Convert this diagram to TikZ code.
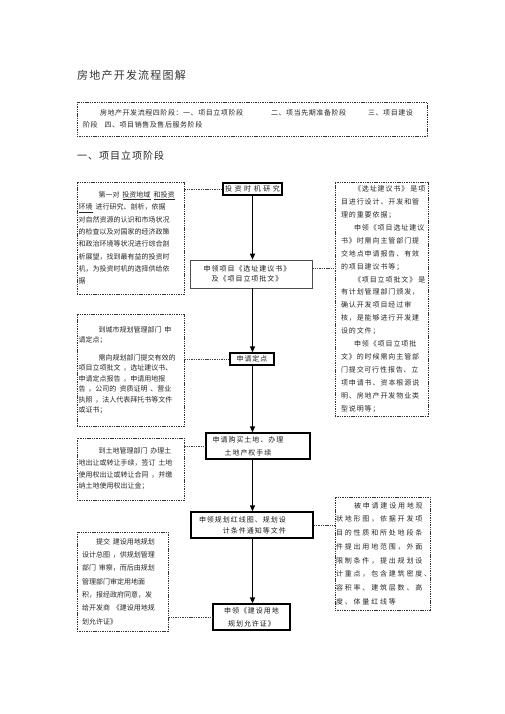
\documentclass[tikz,border=0pt]{standalone}
\usepackage{fontspec}
\setmainfont{Noto Sans CJK SC}
\newfontfamily\fL{Noto Sans CJK SC}
\newfontfamily\fTop[LetterSpace=8]{Noto Sans CJK SC}
\newfontfamily\fRa[LetterSpace=13]{Noto Sans CJK SC}
\newfontfamily\fRb[LetterSpace=26]{Noto Sans CJK SC}
\newfontfamily\fC[LetterSpace=14]{Noto Sans CJK SC}
\newfontfamily\fCa[LetterSpace=36]{Noto Sans CJK SC}
\newfontfamily\fTitle[LetterSpace=11]{Noto Sans CJK SC}
\newfontfamily\fHead[LetterSpace=10]{Noto Sans CJK SC}
\newcommand\myind[1]{\leavevmode\kern#1\relax}
\usetikzlibrary{arrows.meta}
\tikzset{
  dbox/.style={draw=black!80, line width=0.8pt, dash pattern=on 1.4pt off 0.9pt,
    align=left, inner ysep=0pt, text=black!85},
  cbox/.style={draw=black, line width=1.2pt, inner sep=0pt, align=center,
    font=\fC\fontsize{7}{10}\selectfont, text=black!90},
  ctext/.style={inner sep=0pt, align=center, text=black!90},
  conn/.style={draw=black!75, line width=0.8pt, dash pattern=on 1.4pt off 0.9pt},
  flow/.style={draw=black, line width=1.3pt, -{Triangle[length=6pt,width=5pt]}},
  plain/.style={anchor=west, inner sep=0pt, text=black!80}
}
\begin{document}
\begin{tikzpicture}[x=1pt, y=-1pt]
\useasboundingbox (0,0) rectangle (505,714);

\node[plain, font=\fTitle\fontsize{11}{13}\selectfont] (title) at (77,75) {房地产开发流程图解};

\node[dbox, minimum width=350pt, minimum height=34pt, inner xsep=6pt, text width=338pt,
  font=\fTop\fontsize{7}{12}\selectfont] (intro) at (252,119)
  {\myind{17pt}房地产开发流程四阶段：一、项目立项阶段\kern28pt二、项当先期准备阶段\kern22pt三、项目建设\\
   阶段\kern7pt四、项目销售及售后服务阶段};

\node[plain, font=\fHead\fontsize{10}{12}\selectfont, text=black!85] (sec) at (77,156) {一、项目立项阶段};

% left boxes
\node[dbox, minimum width=107pt, minimum height=112pt, inner xsep=1.5pt, text width=104pt,
  font=\fL\fontsize{7}{12.3}\selectfont] (L1) at (130.5,238)
  {\myind{20pt}第一对\kern3pt\underline{投资地域}\kern3pt\underline{和投资}\\
   \underline{环境}\kern3pt进行研究、剖析，依据\\
   对自然资源的认识和市场状况\\
   的检查以及对国家的经济政策\\
   和政治环境等状况进行综合剖\\
   析展望，找到最有益的投资时\\
   机，为投资时机的选择供给依\\
   据};

\node[dbox, minimum width=107pt, minimum height=112pt, inner xsep=1.5pt, text width=104pt,
  font=\fL\fontsize{7}{10.5}\selectfont] (L2) at (130.5,370)
  {\myind{20pt}到城市规划管理部门\kern3pt申\\
   请定点；\\[7pt]
   \myind{20pt}需向规划部门提交有效的\\
   项目立项批文\kern3pt，选址建议书、\\
   申请定点报告\kern3pt，申请用地报\\
   告\kern3pt，公司的\kern3pt资质证明\kern3pt、营业\\
   执照\kern3pt，法人代表拜托书等文件\\
   或证书；};

\node[dbox, minimum width=107pt, minimum height=62pt, inner xsep=1.5pt, text width=104pt,
  font=\fL\fontsize{7}{11.7}\selectfont] (L3) at (130.5,469)
  {\myind{20pt}到土地管理部门\kern3pt办理土\\
   地出让或转让手续，签订\kern3pt土地\\
   使用权出让或转让合同\kern3pt，并缴\\
   纳土地使用权出让金；};

\node[dbox, minimum width=91pt, minimum height=99pt, inner xsep=5pt, text width=81pt,
  font=\fL\fontsize{7}{13.3}\selectfont] (L4) at (122.5,581.5)
  {\myind{14pt}提交\kern3pt建设用地规划\\
   设计总图\kern3pt，供规划管理\\
   部门\kern3pt审察，而后由规划\\
   管理部门审定用地面\\
   积，报经政府同意，发\\
   给开发商\kern3pt《建设用地规\\
   划允许证》};

% right boxes
\node[dbox, minimum width=93pt, minimum height=234pt, inner xsep=6pt, text width=81pt,
  font=\fRa\fontsize{7}{12.9}\selectfont] (R1) at (381.5,299)
  {\myind{13pt}《选址建议书》\kern2pt是项\\
   目进行设计、开发和管\\
   理的重要依据；\\
   \myind{13pt}申领《项目选址建议\\
   书》时需向主管部门提\\
   交地点申请报告、有效\\
   的项目建议书等；\\
   \myind{13pt}《项目立项批文》\kern2pt是\\
   有计划管理部门颁发，\\
   确认开发项目经过审\\
   核，是能够进行开发建\\
   设的文件；\\
   \myind{13pt}申领《项目立项批\\
   文》的时候需向主管部\\
   门提交\kern0.5pt可行性报告\kern0.5pt、立\\
   项申请书\kern1pt、资本根源说\\
   明、房地产开发物业类\\
   型说明等；};

\node[dbox, minimum width=95pt, minimum height=113pt, inner xsep=1pt, text width=93pt,
  font=\fRb\fontsize{7}{13.7}\selectfont] (R2) at (382.5,553.5)
  {\myind{18pt}被申请建设用地现\\
   状地形图，依据开发项\\
   目的性质和所处地段条\\
   件提出用地范围，外面\\
   限制条件，提出规划设\\
   计重点，包含建筑密度、\\
   容积率、建筑层数、高\\
   度、体量红线等};

% centre boxes
\node[cbox, minimum width=59pt, minimum height=12pt, font=\fCa\fontsize{7}{10}\selectfont] (C1) at (252.5,189) {投资时机研究};

\node[cbox, line width=0.6pt, draw=black!70, minimum width=122pt, minimum height=28pt] (C2) at (251,274) {};
\node[ctext, font=\fC\fontsize{7}{10}\selectfont] (C2t) at (247,274) {申领项目《选址建议书》\\及《项目立项批文》};

\node[cbox, minimum width=44pt, minimum height=12pt] (C3) at (252,359) {申请定点};

\node[cbox, minimum width=104pt, minimum height=26pt] (C4) at (258,446) {};
\node[ctext, font=\fC\fontsize{7}{13}\selectfont] (C4t) at (248,446) {申请购买土地、办理\\土地产权手续};

\node[cbox, minimum width=122pt, minimum height=26pt] (C5) at (252,525) {};
\node[ctext, align=right, anchor=east, font=\fC\fontsize{7}{11}\selectfont] (C5t) at (286,525) {申领规划红线图、规划设\\计条件通知等文件};

\node[cbox, minimum width=77pt, minimum height=26pt, font=\fC\fontsize{7}{13}\selectfont] (C6) at (251.5,617) {申领《建设用地\\规划允许证》};

% flow arrows
\draw[flow] (C1.south) -- (C2.north -| C1.south);
\draw[flow] (C2.south -| C1.south) -- (C3.north -| C1.south);
\draw[flow] (C3.south -| C1.south) -- (C4.north -| C1.south);
\draw[flow] (C4.south -| C1.south) -- (C5.north -| C1.south);
\draw[flow] (C5.south -| C1.south) -- (C6.north -| C1.south);

% dashed connectors
\draw[conn] (L1.east |- C1.west) -- (C1.west);
\draw[conn] ([yshift=6pt]C2.east) -- ([yshift=6pt]C2.east -| R1.west);
\draw[conn] (L2.east |- C3.west) -- (C3.west);
\draw[conn] (L3.east |- C4.west) -- (C4.west);
\draw[conn] (C5.east) -- (C5.east -| R2.west);
\draw[conn] (L4.east |- C6.west) -- (C6.west);
\end{tikzpicture}
\end{document}
